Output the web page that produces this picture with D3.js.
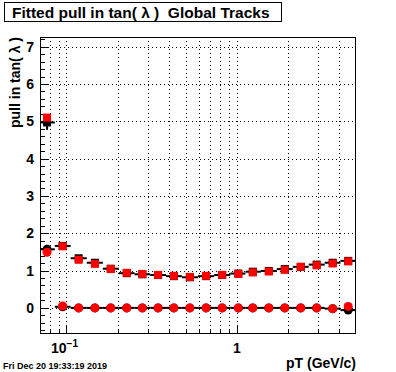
<!DOCTYPE html>
<html>
<head>
<meta charset="utf-8">
<script src="https://cdn.jsdelivr.net/npm/d3@7"></script>
<style>
  body { margin: 0; background: #fff; }
  svg { display: block; font-family: "Liberation Sans", Arial, sans-serif; }
  text { white-space: pre; }
</style>
</head>
<body>
<div id="chart"></div>
<script>
var width = 396;
var height = 372;

// bin centres in pT (GeV/c)
var ptCentres = [0.077, 0.095, 0.118, 0.147, 0.182, 0.226, 0.279, 0.345, 0.427, 0.53,
                 0.66, 0.82, 1.02, 1.24, 1.54, 1.91, 2.37, 2.94, 3.65, 4.5];
// fitted sigma of the pull (squares)
var sigmaBlack = [4.97, 1.66, 1.33, 1.21, 1.05, 0.93, 0.90, 0.88, 0.85, 0.82,
                  0.85, 0.88, 0.92, 0.97, 0.99, 1.04, 1.10, 1.16, 1.21, 1.26];
var sigmaRed   = [5.10, 1.65, 1.29, 1.18, 1.04, 0.94, 0.91, 0.885, 0.86, 0.83,
                  0.86, 0.885, 0.91, 0.95, 0.975, 1.02, 1.10, 1.14, 1.19, 1.245];
// fitted mean of the pull (circles)
var meanBlack = [1.57, 0.03, 0, 0, 0, 0, 0, 0, 0, 0,
                 0, 0, 0, 0, 0, 0, 0, 0, -0.02, -0.06];
var meanRed   = [1.49, 0.05, 0, 0, 0, 0, 0, 0, 0, 0,
                 0, 0, 0, 0, 0, 0, 0, 0, -0.02, 0.04];
var sigmaErr = [0.2, 0.02, 0.02, 0.02, 0.01, 0.01, 0.01, 0.01, 0.01, 0.01,
                0.01, 0.01, 0.01, 0.01, 0.01, 0.01, 0.01, 0.01, 0.01, 0.01];
var meanErr  = [0.12, 0.02, 0.01, 0.01, 0.01, 0.01, 0.01, 0.01, 0.01, 0.01,
                0.01, 0.01, 0.01, 0.01, 0.01, 0.01, 0.01, 0.01, 0.01, 0.02];
var yTicks = [0, 1, 2, 3, 4, 5, 6, 7];
var xGridTicks = [0.08, 0.09, 0.1, 0.2, 0.3, 0.4, 0.5, 0.6, 0.7, 0.8, 0.9, 1, 2, 3, 4];

var padL = 40, padR = 356, padT = 37, padB = 334;

var x = d3.scaleLog().domain([0.07, 5]).range([padL, padR]);
var y = d3.scaleLinear().domain([-0.7, 7.26]).range([padB, padT]);

// bin edges: geometric midpoints between centres, ends at the axis limits
var edges = [0.07];
for (var i = 1; i < ptCentres.length; i++) {
    edges.push(Math.sqrt(ptCentres[i - 1] * ptCentres[i]));
}
edges.push(5);

function rows(vals, errs) {
    return ptCentres.map(function(c, i) {
        return {c: c, lo: edges[i], hi: edges[i + 1], v: vals[i], e: errs[i]};
    });
}

var svg = d3.select("#chart").append("svg")
    .attr("width", width)
    .attr("height", height);

// title box
svg.append("rect")
    .attr("x", 4.5).attr("y", 2.5)
    .attr("width", 277).attr("height", 19)
    .attr("fill", "#fff").attr("stroke", "#000");
svg.append("text")
    .attr("x", 12).attr("y", 17.5)
    .attr("font-size", 15.5).attr("font-weight", "bold")
    .text("Fitted pull in tan( \u03bb )  Global Tracks");

// grid
var grid = svg.append("g")
    .attr("stroke", "#000").attr("stroke-width", 1)
    .attr("stroke-dasharray", "1,3");
grid.selectAll("line.vx").data(xGridTicks).enter().append("line")
    .attr("x1", d => Math.round(x(d)) + 0.5).attr("x2", d => Math.round(x(d)) + 0.5)
    .attr("y1", padT).attr("y2", padB);
grid.selectAll("line.hy").data(yTicks).enter().append("line")
    .attr("x1", padL).attr("x2", padR)
    .attr("y1", d => Math.round(y(d)) + 0.5).attr("y2", d => Math.round(y(d)) + 0.5);

// ticks on y axis (major every 1, minor every 0.2)
var yMinor = d3.range(-0.6, 7.25, 0.2).map(v => Math.round(v * 10) / 10);
svg.append("g").selectAll("line").data(yMinor).enter().append("line")
    .attr("x1", padL)
    .attr("x2", d => padL + (Math.abs(d - Math.round(d)) < 1e-6 ? 9 : 5))
    .attr("y1", d => Math.round(y(d)) + 0.5).attr("y2", d => Math.round(y(d)) + 0.5)
    .attr("stroke", "#000");

// ticks on x axis
svg.append("g").selectAll("line").data(xGridTicks).enter().append("line")
    .attr("x1", d => Math.round(x(d)) + 0.5).attr("x2", d => Math.round(x(d)) + 0.5)
    .attr("y1", padB)
    .attr("y2", d => padB - ((d === 0.1 || d === 1) ? 9 : 5))
    .attr("stroke", "#000");

// y tick labels
svg.append("g").selectAll("text").data(yTicks).enter().append("text")
    .attr("x", 34).attr("y", d => y(d) + 5)
    .attr("text-anchor", "end")
    .attr("font-size", 14).attr("font-weight", "bold")
    .text(d => d);

// x tick labels
var xl = svg.append("text")
    .attr("x", 51).attr("y", 353)
    .attr("font-size", 14).attr("font-weight", "bold");
xl.append("tspan").text("10");
xl.append("tspan").attr("dy", -6).attr("font-size", 10).text("\u22121");
svg.append("text")
    .attr("x", x(1)).attr("y", 353)
    .attr("text-anchor", "middle")
    .attr("font-size", 14).attr("font-weight", "bold")
    .text("1");

// axis titles
svg.append("text")
    .attr("x", 356).attr("y", 368)
    .attr("text-anchor", "end")
    .attr("font-size", 14).attr("font-weight", "bold")
    .text("pT (GeV/c)");
svg.append("text")
    .attr("transform", "translate(20,37) rotate(-90)")
    .attr("text-anchor", "end")
    .attr("font-size", 14).attr("font-weight", "bold")
    .text("pull in tan( \u03bb )");

// date stamp
svg.append("text")
    .attr("x", 3).attr("y", 369)
    .attr("font-size", 9).attr("font-weight", "bold")
    .text("Fri Dec 20 19:33:19 2019");

var plot = svg.append("g");

function drawBlack(data, shape) {
    var g = plot.append("g").attr("stroke", "#000").attr("stroke-width", 2);
    g.selectAll("line.h").data(data).enter().append("line")
        .attr("x1", d => x(d.lo)).attr("x2", d => x(d.hi))
        .attr("y1", d => y(d.v)).attr("y2", d => y(d.v));
    g.selectAll("line.v").data(data).enter().append("line")
        .attr("x1", d => x(d.c)).attr("x2", d => x(d.c))
        .attr("y1", d => y(d.v - d.e)).attr("y2", d => y(d.v + d.e));
    if (shape === "square") {
        plot.append("g").selectAll("rect").data(data).enter().append("rect")
            .attr("x", d => x(d.c) - 4).attr("y", d => y(d.v) - 4)
            .attr("width", 8).attr("height", 8).attr("fill", "#000");
    } else {
        plot.append("g").selectAll("circle").data(data).enter().append("circle")
            .attr("cx", d => x(d.c)).attr("cy", d => y(d.v))
            .attr("r", 4.5).attr("fill", "#000");
    }
}

function drawRed(data, shape) {
    if (shape === "square") {
        plot.append("g").selectAll("rect").data(data).enter().append("rect")
            .attr("x", d => x(d.c) - 4).attr("y", d => y(d.v) - 4)
            .attr("width", 8).attr("height", 8).attr("fill", "#ff0000");
    } else {
        plot.append("g").selectAll("circle").data(data).enter().append("circle")
            .attr("cx", d => x(d.c)).attr("cy", d => y(d.v))
            .attr("r", 4.5).attr("fill", "#ff0000");
    }
}

drawBlack(rows(sigmaBlack, sigmaErr), "square");
drawBlack(rows(meanBlack, meanErr), "circle");
drawRed(rows(sigmaRed, sigmaErr), "square");
drawRed(rows(meanRed, meanErr), "circle");

// frame
svg.append("rect")
    .attr("x", padL + 0.5).attr("y", padT + 0.5)
    .attr("width", padR - padL - 1).attr("height", padB - padT - 1)
    .attr("fill", "none").attr("stroke", "#000");
</script>
</body>
</html>
